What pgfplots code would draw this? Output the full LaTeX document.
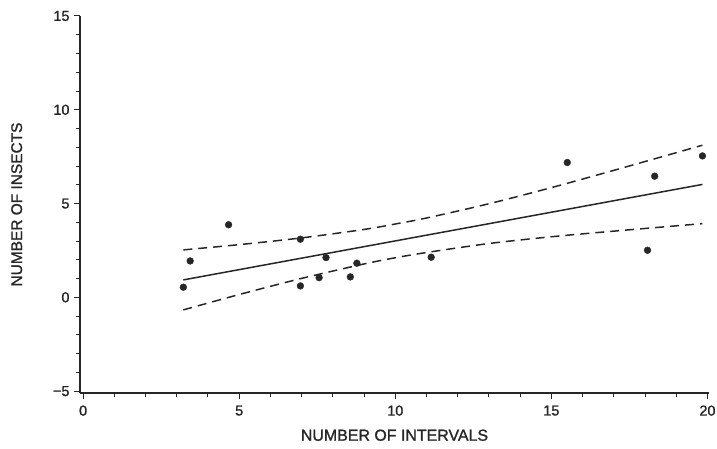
\documentclass[border=0pt]{standalone}
\usepackage{pgfplots}
\pgfplotsset{compat=1.18}
\usepackage{fontspec}
\setmainfont{Liberation Sans}
\newfontfamily\chartfont{Liberation Sans}[FakeBold=1.2]

\definecolor{ink}{gray}{0.15}

\begin{document}
\begin{tikzpicture}
\path[use as bounding box] (0,0) rectangle (717bp,449bp);
\begin{axis}[
    at={(80bp,56bp)}, anchor=south west,
    scale only axis,
    width=629bp, height=377bp,
    xmin=-0.1, xmax=20.05,
    ymin=-5.1, ymax=15,
    axis x line=bottom, axis y line=left,
    axis line style={-, ink, line width=1.2pt},
    xtick={0,5,10,15,20}, ytick={-5,0,5,10,15},
    yticklabels={\char"2212 5,0,5,10,15},
    minor x tick num=4, minor y tick num=4,
    tick align=outside,
    major tick length=6bp, minor tick length=3.5bp,
    tick style={ink, line width=1pt},
    xticklabel style={yshift=-3bp},
    yticklabel style={xshift=-1bp},
    /pgf/number format/assume math mode=true,
    ticklabel style={font=\chartfont\fontsize{14.5}{17}\selectfont, text=ink},
    xlabel={NUMBER OF INTERVALS},
    ylabel={NUMBER OF INSECTS},
    xlabel style={font=\chartfont\fontsize{16}{19}\selectfont, text=ink, yshift=-7bp},
    ylabel style={font=\chartfont\fontsize{15.5}{18}\selectfont, text=ink, yshift=24bp},
    clip=false,
]
% observations
\addplot[only marks, mark=*, mark size=3.4bp, ink] coordinates {
    (3.21,0.54) (3.43,1.94) (4.66,3.87) (6.96,3.10) (6.96,0.61)
    (7.56,1.05) (7.78,2.12) (8.56,1.09) (8.77,1.82) (11.15,2.14)
    (15.51,7.19) (18.08,2.51) (18.31,6.46) (19.84,7.54)
};
% fitted line
\addplot[ink, line width=1.5pt] coordinates {
    (3.21,0.93) (19.84,6.02)
};
% upper band
\addplot[ink, line width=1.5pt, dash pattern=on 9bp off 6bp, smooth] coordinates {
    (3.21,2.53) (5,2.81) (7,3.17) (9,3.62) (10,3.91) (11,4.23)
    (13,4.99) (15,5.85) (17,6.77) (19.84,8.11)
};
% lower band
\addplot[ink, line width=1.5pt, dash pattern=on 9bp off 6bp, smooth] coordinates {
    (3.21,-0.67) (5,0.15) (7,1.01) (9,1.78) (10,2.11) (11,2.39)
    (13,2.87) (15,3.23) (17,3.53) (19.84,3.93)
};
\end{axis}
\end{tikzpicture}
\end{document}
